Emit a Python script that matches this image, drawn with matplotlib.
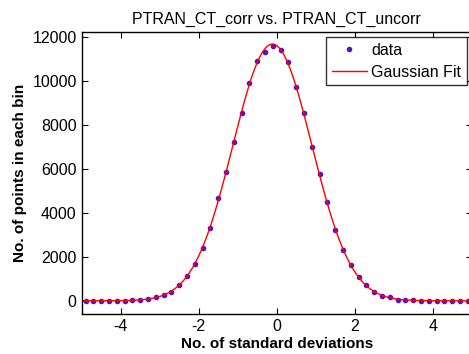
import numpy as np
import matplotlib
matplotlib.use('Agg')
import matplotlib.pyplot as plt

plt.rcParams['font.family'] = ['Liberation Sans', 'DejaVu Sans']
plt.rcParams['axes.unicode_minus'] = False

# centros de los bins (desviaciones estandar) y cuentas
bins = np.round(np.arange(-4.9, 5.0, 0.2), 1)
cuentas = [0, 0, 0, 0, 0, 0, 30, 30, 90, 170,
           280, 400, 710, 1130, 1650, 2410, 3320, 4680, 5830, 7210,
           8545, 9880, 10900, 11320, 11560, 11400, 10860, 9700, 8545, 6970,
           5740, 4510, 3200, 2320, 1620, 1070, 700, 400, 215, 150,
           55, 30, 15, 0, 0, 0, 0, 0, 0, 0]

titulo = 'PTRAN_CT_corr vs. PTRAN_CT_uncorr'
xlabel = 'No. of standard deviations'
ylabel = 'No. of points in each bin'

# ajuste gaussiano: cuadratica sobre log(y)
x = np.array(bins)
y = np.array(cuentas, dtype=float)
m = y > 100
c2, c1, c0 = np.polyfit(x[m], np.log(y[m]), 2, w=np.sqrt(y[m]))
sigma = np.sqrt(-1 / (2 * c2))
mu = c1 * sigma**2
amp = np.exp(c0 + mu**2 / (2 * sigma**2))
xf = np.linspace(-5, 5, 400)
yf = amp * np.exp(-(xf - mu)**2 / (2 * sigma**2))

fig = plt.figure(figsize=(4.69, 3.54), dpi=100)
ax = fig.add_axes([0.174, 0.113, 0.832, 0.796])

ax.plot(bins, cuentas, '.', color='#5a10c8', markersize=6, label='data')
ax.plot(xf, yf, '-', color='red', lw=1, label='Gaussian Fit')

ax.set_xlim(-5, 5)
ax.set_ylim(-600, 12200)
ax.set_xticks([-4, -2, 0, 2, 4])
ax.set_yticks(range(0, 12001, 2000))
ax.tick_params(direction='in', top=True, right=True, length=4, labelsize=11.5, width=0.8)
for s in ax.spines.values():
    s.set_linewidth(1)

ax.set_title(titulo, fontsize=11.5)
ax.set_xlabel(xlabel, fontsize=11, fontweight='bold', labelpad=2)
ax.set_ylabel(ylabel, fontsize=11, fontweight='bold', labelpad=4)

leg = ax.legend(loc='upper right', fontsize=11.5, frameon=True, fancybox=False,
                edgecolor='black', borderaxespad=0.3, handlelength=2.2,
                borderpad=0.35, labelspacing=0.45, handletextpad=0.3)
leg.get_frame().set_linewidth(1)

fig.savefig('out.png', dpi=100)
